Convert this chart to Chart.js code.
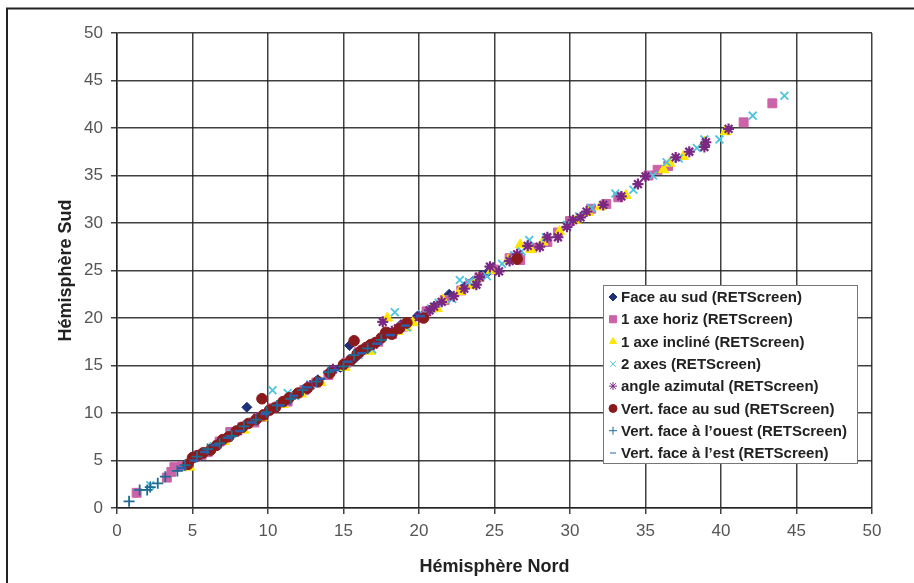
<!DOCTYPE html>
<html>
<head>
<meta charset="utf-8">
<script src="https://cdn.jsdelivr.net/npm/chart.js@4.4.1/dist/chart.umd.min.js"></script>
<style>
html, body { margin: 0; padding: 0; background: #fff; }
#wrap { position: relative; width: 914px; height: 583px; }
</style>
</head>
<body>
<div id="wrap"><canvas id="chart" width="914" height="583"></canvas></div>
<script>
// values, [x, y] pairs per series
const labels = [
    "Face au sud (RETScreen)",
    "1 axe horiz (RETScreen)",
    "1 axe incliné (RETScreen)",
    "2 axes (RETScreen)",
    "angle azimutal (RETScreen)",
    "Vert. face au sud (RETScreen)",
    "Vert. face à l\u2019ouest (RETScreen)",
    "Vert. face à l\u2019est (RETScreen)"
];

const faceSud = [[4.6,4.5],[5.0,5.1],[5.6,5.5],[6.2,6.3],[7.0,7.1],[7.6,7.8],[8.3,8.4],[8.6,10.6],[9.0,9.1],[9.6,9.8],
    [10.2,10.4],[11.0,11.1],[11.8,12.0],[12.5,12.6],[13.3,13.5],[14.0,14.2],[14.8,14.8],[15.4,17.1],[15.8,15.8],[16.7,16.9],
    [17.5,17.8],[18.2,18.5],[18.8,19.3],[19.9,20.2],[20.5,20.7],[21.0,21.2],[22.0,22.5],[23.0,23.3],[23.6,23.9],[24.1,24.5],
    [24.6,24.9],[24.9,25.3]];

const axeHoriz = [[1.3,1.6],[3.3,3.2],[3.6,3.8],[3.8,4.3],[4.3,4.4],[5.2,5.4],[5.6,5.6],[6.0,5.9],[6.8,7.0],[7.5,8.0],
    [8.3,8.5],[9.1,9.0],[9.6,9.6],[10.3,10.5],[11.3,11.2],[12.4,12.4],[13.2,13.2],[14.0,14.0],[15.2,15.3],[16.0,16.4],
    [17.3,17.5],[18.2,18.3],[19.0,19.1],[20.5,20.7],[21.7,21.9],[22.8,22.9],[23.4,23.6],[24.0,24.3],[25.0,25.1],[26.0,26.3],
    [26.7,26.1],[27.5,27.4],[28.5,28.0],[29.2,29.0],[30.0,30.2],[31.4,31.5],[32.4,32.0],[33.2,32.7],[35.2,35.0],[35.8,35.6],
    [36.5,36.0],[41.5,40.6],[43.4,42.6]];

const axeIncline = [[4.8,4.3],[6.0,6.0],[7.1,7.0],[8.4,8.2],[9.6,9.5],[11.0,10.9],[12.2,12.0],[13.5,13.2],[15.1,14.8],[16.8,16.5],
    [17.9,20.0],[18.6,18.6],[19.2,19.0],[19.6,19.5],[20.8,20.9],[21.2,21.0],[21.6,21.9],[22.7,22.8],[23.5,23.4],[23.9,24.2],
    [24.8,25.0],[25.9,26.1],[26.7,27.7],[27.4,27.2],[28.2,28.0],[29.3,29.1],[30.4,30.3],[31.2,31.1],[32.0,31.7],[33.7,32.9],
    [36.2,35.6],[36.6,36.3],[37.5,37.0],[38.9,38.5],[40.3,39.6]];

const deuxAxes = [[2.2,2.4],[5.0,5.2],[6.4,6.5],[7.6,7.8],[8.8,9.0],[10.3,12.4],[11.3,12.1],[11.8,11.8],[12.8,13.0],[14.2,14.5],
    [15.5,15.5],[16.0,16.1],[16.9,16.7],[18.4,20.6],[19.2,19.0],[20.2,20.4],[20.8,21.0],[21.3,21.6],[22.2,22.0],[22.7,24.0],
    [23.3,23.8],[23.8,24.0],[24.5,24.4],[25.5,25.7],[26.3,26.6],[26.8,27.0],[27.3,28.2],[28.4,28.5],[29.8,29.8],[30.6,30.7],
    [31.4,31.6],[33.0,33.1],[34.2,33.5],[35.5,35.0],[36.4,36.4],[37.2,36.8],[38.4,37.9],[38.9,38.8],[39.9,38.8],[42.1,41.3],
    [44.2,43.4]];

const azimutal = [[8.0,8.1],[9.3,9.5],[11.2,11.3],[12.8,12.9],[14.3,14.6],[15.5,15.6],[16.0,16.3],[17.0,17.2],[17.6,19.6],[18.2,18.6],
    [18.6,18.9],[19.0,19.3],[20.0,20.1],[20.7,20.8],[21.0,21.2],[21.5,21.7],[22.3,22.3],[23.0,23.1],[23.8,23.5],[24.0,24.3],
    [24.7,25.4],[25.3,24.9],[26.0,26.0],[26.5,26.7],[27.2,27.6],[28.0,27.5],[28.5,28.5],[29.2,28.5],[29.8,29.6],[30.2,30.3],
    [30.7,30.6],[31.1,31.2],[32.2,31.9],[33.4,32.8],[34.5,34.1],[35.0,34.9],[37.0,36.9],[37.9,37.5],[38.9,38.0],[39.0,38.5],
    [40.5,39.9]];

const vertSud = [[4.7,4.6],[5.0,5.3],[5.3,5.5],[5.7,5.8],[6.2,6.1],[6.6,6.6],[7.0,7.2],[7.4,7.5],[7.9,8.1],[8.3,8.5],
    [8.7,8.9],[9.2,9.3],[9.6,11.5],[9.7,9.8],[10.1,10.3],[10.5,10.6],[11.0,11.2],[11.4,11.6],[12.0,12.1],[12.6,12.6],
    [13.3,13.3],[14.1,14.2],[15.0,15.1],[15.5,15.6],[15.7,17.6],[15.9,16.2],[16.2,16.6],[16.5,16.9],[16.8,17.2],[17.1,17.4],
    [17.5,17.9],[17.8,18.5],[18.2,18.3],[18.7,18.9],[19.2,19.5],[20.3,20.0],[26.5,26.2]];

const vertOuest = [[0.8,0.7],[1.5,1.9],[2.0,1.9],[2.2,2.2],[2.7,2.6],[3.2,3.3],[4.0,3.9],[4.5,4.5],[5.3,5.4],[6.0,6.2],
    [6.8,6.8],[7.6,7.6],[8.4,8.6],[9.2,9.3],[9.9,10.1],[10.6,10.8],[11.5,11.5],[12.3,12.4],[13.2,13.3],[14.0,14.3],
    [15.0,14.9],[15.7,16.1],[16.6,16.8],[17.5,17.7]];

const vertEst = [[4.3,4.2],[5.1,5.0],[5.8,5.9],[6.5,6.6],[7.3,7.4],[8.1,8.1],[8.9,9.0],[9.8,9.9],[10.8,10.8],[11.7,11.8],
    [12.6,12.7],[13.5,13.6],[14.4,14.5],[15.3,15.4],[16.2,16.3],[17.2,17.3],[18.1,18.2],[19.1,19.2],[20.1,20.2]];

const allSeries = [faceSud, axeHoriz, axeIncline, deuxAxes, azimutal, vertSud, vertOuest, vertEst];

// marker styles
const colors = ["#1f2f78", "#cc62a8", "#ffe600", "#4cc4de", "#7a2883", "#8b1a1c", "#1d6c94", "#2a5eac"];
const pStyles = ["rectRot", "rect", "triangle", "crossRot", "star", "circle", "cross", "line"];
const radii = [5, 6.3, 6, 5.5, 5.5, 5.3, 5.5, 4.5];
const borders = [1, 1, 1, 1.8, 2.2, 1, 1.8, 2.5];

const FONT = '"Liberation Sans", Arial, Helvetica, sans-serif';

const datasets = allSeries.map((pts, i) => ({
    label: labels[i],
    data: pts.map(p => ({x: p[0], y: p[1]})),
    pointStyle: pStyles[i],
    pointRadius: radii[i],
    pointHoverRadius: radii[i],
    pointBorderWidth: borders[i],
    backgroundColor: colors[i],
    borderColor: colors[i],
    order: 7 - i
}));

const framePlugin = {
    id: "frame",
    beforeDraw(chart) {
        const ctx = chart.ctx;
        ctx.save();
        ctx.strokeStyle = "#222";
        ctx.lineWidth = 2;
        ctx.strokeRect(7, 8.5, 1200, 1200);
        ctx.restore();
    }
};

// legend box drawn inside the plot like the original
const legendPlugin = {
    id: "boxLegend",
    afterDraw(chart) {
        const ctx = chart.ctx;
        const box = {l: 603, t: 285, r: 857, b: 463};
        ctx.save();
        ctx.fillStyle = "#fff";
        ctx.fillRect(box.l, box.t, box.r - box.l, box.b - box.t);
        ctx.strokeStyle = "#777";
        ctx.lineWidth = 1;
        ctx.strokeRect(box.l + 0.5, box.t + 0.5, box.r - box.l, box.b - box.t);
        ctx.font = "bold 15px " + FONT;
        ctx.textBaseline = "middle";
        ctx.textAlign = "left";
        const step = (453 - 297) / 7;
        chart.data.datasets.forEach((ds, i) => {
            const y = 297 + i * step;
            ctx.fillStyle = colors[i];
            ctx.strokeStyle = colors[i];
            Chart.helpers.drawPoint(ctx, {
                pointStyle: pStyles[i],
                radius: pStyles[i] === "line" ? 3 : (pStyles[i] === "rect" ? 5 : 4),
                rotation: 0,
                borderWidth: borders[i]
            }, 613, y);
            ctx.fillStyle = "#222";
            ctx.fillText(ds.label, 621, y + 1);
        });
        ctx.restore();
    }
};

const gridOpts = {
    color: "rgba(30,30,30,0.85)",
    lineWidth: 1.5,
    drawTicks: true,
    tickLength: 6
};

new Chart(document.getElementById("chart"), {
    type: "scatter",
    data: { datasets: datasets },
    options: {
        responsive: false,
        animation: false,
        layout: { padding: { left: 47, right: 42, top: 33, bottom: 0 } },
        plugins: {
            legend: { display: false },
            tooltip: { enabled: false }
        },
        scales: {
            x: {
                type: "linear",
                min: 0, max: 50,
                ticks: { stepSize: 5, padding: 7, color: "#555", font: { family: FONT, size: 17 } },
                grid: gridOpts,
                border: { color: "rgba(30,30,30,0.85)", width: 1.5 },
                title: {
                    display: true, text: "Hémisphère Nord", color: "#222",
                    font: { family: FONT, size: 18, weight: "bold" },
                    padding: { top: 4, bottom: 5 }
                },
                afterFit(scale) { scale.height = 75; }
            },
            y: {
                type: "linear",
                min: 0, max: 50,
                ticks: { stepSize: 5, padding: 8, color: "#555", font: { family: FONT, size: 17 } },
                grid: gridOpts,
                border: { color: "rgba(30,30,30,0.85)", width: 1.5 },
                title: {
                    display: true, text: "Hémisphère Sud", color: "#222",
                    font: { family: FONT, size: 18, weight: "bold" },
                    padding: { top: 8, bottom: 4 }
                },
                afterFit(scale) { scale.width = 70; }
            }
        }
    },
    plugins: [framePlugin, legendPlugin]
});
</script>
</body>
</html>
